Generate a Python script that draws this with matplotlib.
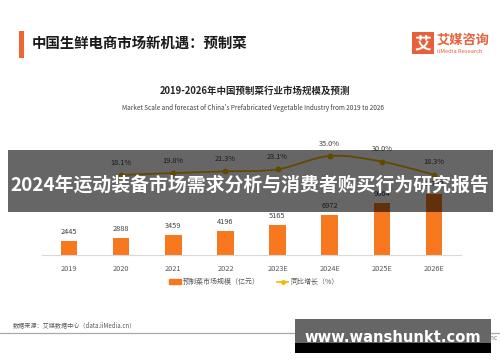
import matplotlib
matplotlib.use("Agg")
import matplotlib.pyplot as plt
from matplotlib.patches import Rectangle, PathPatch
from matplotlib.path import Path
from matplotlib.lines import Line2D
import numpy as np

plt.rcParams['font.family'] = ['Noto Sans CJK SC', 'DejaVu Sans']

years = ["2019", "2020", "2021", "2022", "2023E", "2024E", "2025E", "2026E"]
market_size = [2445, 2888, 3459, 4196, 5165, 6972, 9064, 10723]
growth_years = ["2020", "2021", "2022", "2023E", "2024E", "2025E", "2026E"]
growth = [18.1, 19.8, 21.3, 23.1, 35.0, 30.0, 18.3]

W, H = 500, 362
fig = plt.figure(figsize=(W / 100, H / 100), dpi=100)
fig.patch.set_facecolor('white')

def fx(x):
    return x / W

def fy(y):
    return 1 - y / H

ORANGE = '#F7781F'
YELLOW = '#F5B800'
TXT = '#404040'

# chart axes
ax = fig.add_axes([fx(42), fy(255), (461 - 42) / W, (255 - 140) / H])
x = np.arange(len(years))
ax.bar(x, market_size, width=0.32, color=ORANGE, zorder=2)
ax.set_xlim(-0.518, len(years) - 1 + 0.518)
ax.set_ylim(0, 20070)
for xi, v in zip(x, market_size):
    ax.text(xi, v + 900, str(v), ha='center', va='bottom', fontsize=5.3, color=TXT)
ax.set_xticks(x)
ax.set_xticklabels(years, fontsize=5.3, color='#595959')
ax.tick_params(axis='x', length=0, pad=7)
ax.set_yticks([])
for s in ['top', 'right', 'left']:
    ax.spines[s].set_visible(False)
ax.spines['bottom'].set_color('#D9D9D9')
ax.spines['bottom'].set_linewidth(0.8)
ax.patch.set_alpha(0)

ax2 = ax.twinx()
ax2.set_ylim(-53.1, 49.2)
ax2.set_yticks([])
for s in ax2.spines.values():
    s.set_visible(False)
gpos = np.array([years.index(g) for g in growth_years], dtype=float)
pts = np.column_stack([gpos, growth])
verts = [tuple(pts[0])]
codes = [Path.MOVETO]
n = len(pts)
for i in range(n - 1):
    p0 = pts[i - 1] if i > 0 else pts[i]
    p1 = pts[i]
    p2 = pts[i + 1]
    p3 = pts[i + 2] if i + 2 < n else pts[i + 1]
    c1 = p1 + (p2 - p0) / 6.0
    c2 = p2 - (p3 - p1) / 6.0
    verts += [tuple(c1), tuple(c2), tuple(p2)]
    codes += [Path.CURVE4] * 3
ax2.add_patch(PathPatch(Path(verts, codes), fill=False, edgecolor=YELLOW, lw=1.3, zorder=3))
ax2.plot(gpos, growth, linestyle='none', marker='o', ms=3.2, color=YELLOW, zorder=4)
for xi, v in zip(gpos, growth):
    ax2.text(xi, v + 7.5, f"{v:.1f}%", ha='center', va='bottom', fontsize=5.3, color=TXT)

# legend
h1 = Rectangle((0, 0), 1, 1, color=ORANGE)
h2 = Line2D([], [], color=YELLOW, marker='o', ms=2.5, lw=1.2)
fig.legend([h1, h2], ["预制菜市场规模（亿元）", "同比增长（%）"], loc='center',
           bbox_to_anchor=(fx(254), fy(282)), ncol=2, frameon=False, fontsize=5,
           handlelength=1.6, handleheight=0.7, columnspacing=2.5, handletextpad=0.3,
           labelcolor='#595959')

# header
fig.add_artist(Rectangle((fx(19), fy(58)), 5 / W, 27 / H, transform=fig.transFigure,
                         color='#EE6433', lw=0))
fig.text(fx(32), fy(44), "中国生鲜电商市场新机遇：预制菜", fontsize=10.4, fontweight='bold',
         color='#1a1a1a', va='center', ha='left')
fig.add_artist(Rectangle((fx(412), fy(54)), 22 / W, 22 / H, transform=fig.transFigure,
                         color='#E8603A', lw=0))
fig.text(fx(423), fy(43.5), "艾", fontsize=12, fontweight='bold', color='white',
         ha='center', va='center')
fig.text(fx(437), fy(40), "艾媒咨询", fontsize=9.5, fontweight='bold', color='#E8603A',
         ha='left', va='center')
fig.text(fx(437), fy(51.5), "iiMedia Research", fontsize=4.2, color='#E8603A',
         ha='left', va='center')

fig.text(fx(255), fy(91), "2019-2026年中国预制菜行业市场规模及预测", fontsize=6.8,
         fontweight='bold', color='#262626', ha='center', va='center')
fig.text(fx(253), fy(108),
         "Market Scale and forecast of China's Prefabricated Vegetable Industry from 2019 to 2026",
         fontsize=4.6, color='#404040', ha='center', va='center')

# footer
fig.text(fx(13), fy(325), "数据来源：艾媒数据中心（data.iiMedia.cn）", fontsize=4.4,
         color='#595959', ha='left', va='center')
fig.add_artist(Line2D([0, 1], [fy(333), fy(333)], transform=fig.transFigure,
                      color='#AAAAAA', lw=0.9))
fig.text(fx(497), fy(338), "© 艾媒咨询 iiMedia Research Inc", fontsize=4.6,
         color='#808080', ha='right', va='center')

# banner overlay
fig.add_artist(Rectangle((fx(8), fy(212)), (493 - 8) / W, (212 - 150) / H,
                         transform=fig.transFigure, color='black', alpha=0.6, lw=0, zorder=5))
fig.text(fx(250), fy(185), "2024年运动装备市场需求分析与消费者购买行为研究报告",
         fontsize=13.6, fontweight='bold', color='white', ha='center', va='center', zorder=6)

# watermark box
fig.add_artist(Rectangle((fx(295), fy(343)), (491 - 295) / W, (343 - 319) / H,
                         transform=fig.transFigure, color='#666666', lw=0, zorder=5))
fig.add_artist(Rectangle((fx(295), fy(353)), (491 - 295) / W, (353 - 343) / H,
                         transform=fig.transFigure, color='black', lw=0, zorder=5))
fig.text(fx(393), fy(337), "www.wanshunkt.com", fontsize=10.6, fontweight='bold',
         color='white', ha='center', va='center', zorder=6, family='DejaVu Sans')

fig.savefig("out.png", dpi=100)
